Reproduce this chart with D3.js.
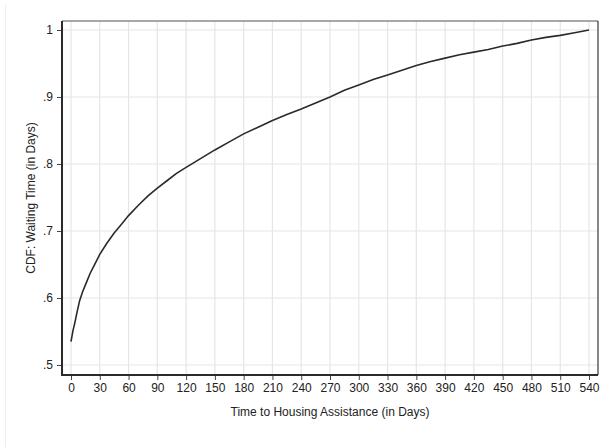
<!DOCTYPE html>
<html>
<head>
<meta charset="utf-8">
<script src="https://cdn.jsdelivr.net/npm/d3@7"></script>
<style>
  body { margin: 0; background: #fff; }
  svg text { font-family: "Liberation Sans", Arial, sans-serif; fill: #222; }
</style>
</head>
<body>
<div id="chart"></div>
<script>
// donnees
const days = [0, 2, 4, 6, 9, 12, 16, 20, 25, 30, 37, 45, 52, 60, 70, 80, 90, 100, 110, 120,
  135, 150, 165, 180, 195, 210, 225, 240, 255, 270, 285, 300, 315, 330, 345, 360, 375, 390,
  405, 420, 435, 450, 465, 480, 495, 510, 525, 540];
const cdf = [0.535, 0.551, 0.563, 0.577, 0.596, 0.609, 0.623, 0.637, 0.651, 0.665, 0.681, 0.697,
  0.709, 0.723, 0.738, 0.752, 0.764, 0.775, 0.786, 0.795, 0.808, 0.821, 0.833, 0.845, 0.855,
  0.865, 0.874, 0.882, 0.891, 0.900, 0.910, 0.918, 0.926, 0.933, 0.940, 0.947, 0.953, 0.958,
  0.963, 0.967, 0.971, 0.976, 0.980, 0.985, 0.989, 0.992, 0.996, 1.000];
const xTicks = d3.range(0, 541, 30);
const yTicks = [0.5, 0.6, 0.7, 0.8, 0.9, 1];
const xTitle = "Time to Housing Assistance (in Days)";
const yTitle = "CDF: Waiting Time (in Days)";

const W = 600, H = 447;
const plot = {left: 62, right: 598, top: 21, bottom: 375};

const svg = d3.select("#chart").append("svg")
    .attr("width", W)
    .attr("height", H);

// cadre exterieur pale
svg.append("line")
    .attr("x1", 5.5).attr("x2", 5.5)
    .attr("y1", 5).attr("y2", H)
    .attr("stroke", "#eeeeee");

const x = d3.scaleLinear().domain([0, 540]).range([71, 589]);
const y = d3.scaleLinear().domain([0.5, 1]).range([365, 30]);

// grille
svg.append("g").selectAll("line").data(xTicks).enter().append("line")
    .attr("x1", d => x(d)).attr("x2", d => x(d))
    .attr("y1", plot.top).attr("y2", plot.bottom)
    .attr("stroke", "#e6e6e6").attr("stroke-width", 1.2);
svg.append("g").selectAll("line").data(yTicks).enter().append("line")
    .attr("x1", plot.left).attr("x2", plot.right)
    .attr("y1", d => y(d)).attr("y2", d => y(d))
    .attr("stroke", "#e6e6e6").attr("stroke-width", 1.2);

// bordure haut et droite
svg.append("line")
    .attr("x1", plot.left).attr("x2", plot.right)
    .attr("y1", plot.top).attr("y2", plot.top)
    .attr("stroke", "#8a8a8a").attr("stroke-width", 1.5);
svg.append("line")
    .attr("x1", plot.right).attr("x2", plot.right)
    .attr("y1", plot.top).attr("y2", plot.bottom)
    .attr("stroke", "#111").attr("stroke-width", 1);

// courbe
const pts = days.map((d, i) => [d, cdf[i]]);
svg.append("path")
    .datum(pts)
    .attr("fill", "none")
    .attr("stroke", "#2a2a2a")
    .attr("stroke-width", 1.6)
    .attr("d", d3.line().x(d => x(d[0])).y(d => y(d[1])));

// axes
const axeX = d3.axisBottom(x).tickValues(xTicks).tickSize(5).tickPadding(3)
    .tickFormat(d3.format("d"));
const gx = svg.append("g")
    .attr("transform", "translate(0," + plot.bottom + ")")
    .call(axeX);
gx.select(".domain").remove();
gx.append("line")
    .attr("x1", plot.left - 1).attr("x2", plot.right)
    .attr("stroke", "#2a2a2a").attr("stroke-width", 2);
gx.selectAll(".tick line").attr("stroke", "#444");
gx.selectAll("text").style("font-size", "12px").attr("fill", "#222");

const axeY = d3.axisLeft(y).tickValues(yTicks).tickSize(5).tickPadding(4)
    .tickFormat(d => d === 1 ? "1" : d3.format(".1f")(d).replace(/^0/, ""));
const gy = svg.append("g")
    .attr("transform", "translate(" + plot.left + ",0)")
    .call(axeY);
gy.select(".domain").remove();
gy.append("line")
    .attr("y1", plot.top).attr("y2", plot.bottom + 1)
    .attr("stroke", "#2a2a2a").attr("stroke-width", 2);
gy.selectAll(".tick line").attr("stroke", "#444");
gy.selectAll("text").style("font-size", "12px").attr("fill", "#222");

// titres
svg.append("text")
    .attr("x", (plot.left + plot.right) / 2)
    .attr("y", 416)
    .attr("text-anchor", "middle")
    .style("font-size", "12px")
    .text(xTitle);
svg.append("text")
    .attr("transform", "translate(35," + (plot.top + plot.bottom) / 2 + ") rotate(-90)")
    .attr("text-anchor", "middle")
    .style("font-size", "12px")
    .text(yTitle);
</script>
</body>
</html>
